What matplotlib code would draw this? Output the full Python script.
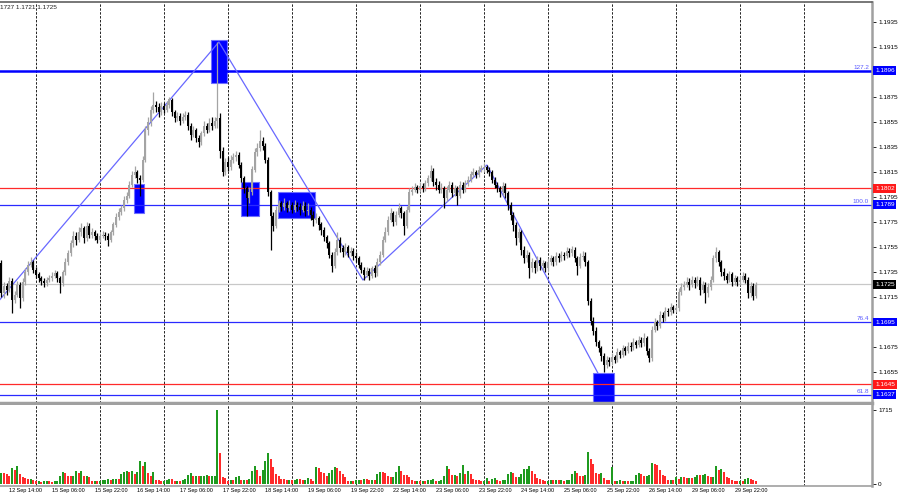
import numpy as np
import matplotlib.pyplot as plt
from matplotlib.patches import Rectangle
from matplotlib.transforms import blended_transform_factory

plt.rcParams['font.family'] = ['Liberation Sans', 'DejaVu Sans']

base = 1.1600  # prices below are pips above this level

# EURUSD H1 bars, index -3 .. 280 (bar 0 = 12 Sep 14:00)
opens = [142, 118, 124, 121, 128, 113, 117, 125, 114, 127, 135, 141,
         143, 137, 133, 130, 128, 126, 129, 130, 132, 134, 130, 126,
         135, 143, 150, 158, 164, 161, 167, 170, 162, 172, 165, 167,
         164, 161, 164, 165, 164, 161, 167, 173, 179, 183, 186, 193,
         196, 205, 213, 215, 210, 209, 225, 249, 255, 265, 269, 267,
         263, 268, 265, 269, 273, 263, 258, 260, 256, 259, 261, 252,
         245, 249, 242, 239, 246, 252, 249, 254, 252, 256, 258, 232,
         215, 223, 219, 225, 227, 229, 221, 210, 202, 194, 199, 217,
         231, 234, 240, 236, 225, 199, 180, 172, 185, 190, 187, 190,
         186, 189, 185, 189, 187, 185, 188, 184, 185, 181, 177, 178,
         173, 169, 163, 158, 149, 140, 151, 161, 154, 151, 155, 150,
         152, 148, 146, 141, 137, 133, 136, 132, 138, 134, 143, 149,
         161, 167, 177, 182, 175, 181, 186, 182, 172, 185, 199, 201,
         203, 201, 204, 202, 206, 210, 216, 207, 205, 201, 202, 194,
         201, 205, 198, 202, 196, 205, 201, 206, 209, 213, 215, 213,
         217, 218, 219, 217, 215, 209, 205, 202, 199, 204, 198, 189,
         181, 173, 162, 167, 153, 146, 149, 138, 143, 138, 145, 140,
         142, 138, 143, 146, 143, 148, 146, 149, 148, 152, 150, 153,
         146, 140, 147, 148, 143, 112, 96, 88, 79, 74, 68, 61,
         65, 63, 67, 65, 71, 69, 74, 72, 76, 75, 79, 77,
         81, 78, 82, 72, 66, 89, 95, 92, 101, 98, 104, 103,
         107, 105, 106, 119, 123, 125, 127, 125, 129, 126, 129, 121,
         125, 118, 123, 129, 146, 151, 143, 135, 132, 129, 133, 127,
         130, 127, 129, 132, 129, 118, 124, 116]
closes = [118, 124, 121, 128, 113, 117, 125, 114, 127, 135, 141, 143,
          137, 133, 130, 128, 126, 129, 130, 132, 134, 130, 126, 135,
          143, 150, 158, 164, 161, 167, 170, 162, 172, 165, 167, 164,
          161, 164, 165, 164, 161, 167, 173, 179, 183, 186, 193, 196,
          205, 213, 215, 210, 209, 225, 249, 255, 265, 269, 267, 263,
          268, 265, 269, 273, 263, 258, 260, 256, 259, 261, 252, 245,
          249, 242, 239, 246, 252, 249, 254, 252, 256, 258, 232, 215,
          223, 219, 225, 227, 229, 221, 210, 202, 194, 199, 217, 231,
          234, 240, 236, 225, 199, 180, 172, 185, 190, 187, 190, 186,
          189, 185, 189, 187, 185, 188, 184, 185, 181, 177, 178, 173,
          169, 163, 158, 149, 140, 151, 161, 154, 151, 155, 150, 152,
          148, 146, 141, 137, 133, 136, 132, 138, 134, 143, 149, 161,
          167, 177, 182, 175, 181, 186, 182, 172, 185, 199, 201, 203,
          201, 204, 202, 206, 210, 216, 207, 205, 201, 202, 194, 201,
          205, 198, 202, 196, 205, 201, 206, 209, 213, 215, 213, 217,
          218, 219, 217, 215, 209, 205, 202, 199, 204, 198, 189, 181,
          173, 162, 167, 153, 146, 149, 138, 143, 138, 145, 140, 142,
          138, 143, 146, 143, 148, 146, 149, 148, 152, 150, 153, 146,
          140, 147, 148, 143, 112, 96, 88, 79, 74, 68, 61, 65,
          63, 67, 65, 71, 69, 74, 72, 76, 75, 79, 77, 81,
          78, 82, 72, 66, 89, 95, 92, 101, 98, 104, 103, 107,
          105, 106, 119, 123, 125, 127, 125, 129, 126, 129, 121, 125,
          118, 123, 129, 146, 151, 143, 135, 132, 129, 133, 127, 130,
          127, 129, 132, 129, 118, 124, 116, 125]
highs = [145, 127, 126, 131, 130, 120, 128, 127, 130, 138, 144, 147,
         145, 139, 135, 132, 130, 131, 133, 135, 137, 136, 132, 137,
         146, 153, 161, 168, 167, 171, 174, 172, 175, 174, 170, 169,
         166, 166, 168, 167, 166, 169, 175, 182, 186, 189, 196, 199,
         208, 216, 220, 217, 213, 228, 252, 259, 268, 279, 272, 270,
         271, 270, 272, 275, 274, 265, 263, 262, 262, 264, 263, 254,
         252, 250, 245, 248, 256, 254, 258, 259, 259, 319, 262, 235,
         226, 227, 229, 230, 232, 231, 223, 212, 204, 203, 220, 234,
         238, 249, 243, 238, 227, 201, 183, 188, 193, 192, 194, 192,
         193, 191, 193, 191, 190, 192, 191, 190, 187, 184, 182, 180,
         175, 171, 165, 160, 151, 154, 167, 163, 157, 158, 157, 155,
         154, 151, 148, 143, 139, 139, 138, 140, 141, 146, 152, 164,
         171, 180, 186, 184, 184, 190, 188, 184, 188, 202, 204, 206,
         205, 207, 206, 209, 213, 221, 218, 210, 208, 206, 204, 204,
         208, 207, 205, 204, 208, 207, 209, 212, 216, 218, 217, 220,
         221, 222, 221, 219, 217, 211, 207, 204, 207, 206, 200, 191,
         183, 175, 170, 169, 156, 153, 151, 146, 145, 148, 147, 145,
         144, 146, 149, 148, 151, 150, 152, 151, 155, 154, 156, 155,
         148, 150, 152, 151, 145, 114, 99, 91, 81, 76, 70, 68,
         67, 70, 69, 74, 73, 77, 76, 79, 79, 82, 81, 84,
         83, 86, 84, 74, 92, 98, 97, 104, 103, 107, 106, 110,
         109, 109, 122, 126, 128, 131, 130, 132, 131, 132, 131, 128,
         127, 126, 132, 149, 155, 153, 145, 138, 134, 136, 135, 133,
         132, 132, 135, 134, 131, 127, 126, 127]
lows = [115, 114, 117, 119, 102, 110, 115, 106, 112, 125, 133, 139,
        134, 130, 127, 125, 123, 124, 127, 128, 130, 127, 118, 124,
        133, 141, 148, 155, 157, 159, 164, 158, 160, 162, 162, 161,
        158, 159, 162, 161, 156, 159, 165, 171, 177, 181, 184, 190,
        194, 203, 210, 206, 196, 207, 223, 245, 252, 262, 263, 259,
        261, 262, 263, 266, 260, 255, 256, 253, 254, 257, 249, 241,
        243, 239, 235, 237, 244, 246, 247, 249, 250, 250, 226, 212,
        213, 216, 217, 222, 224, 218, 207, 198, 180, 190, 197, 215,
        228, 232, 233, 222, 196, 153, 168, 170, 183, 184, 185, 183,
        184, 182, 183, 184, 181, 183, 180, 181, 177, 172, 174, 169,
        165, 160, 154, 146, 135, 138, 149, 151, 147, 149, 147, 148,
        145, 143, 138, 134, 129, 131, 129, 130, 131, 132, 141, 147,
        159, 165, 175, 172, 173, 179, 178, 165, 170, 183, 197, 199,
        198, 199, 199, 200, 204, 208, 204, 201, 198, 198, 186, 192,
        199, 195, 196, 189, 194, 198, 199, 204, 207, 211, 210, 211,
        215, 215, 214, 212, 206, 202, 199, 195, 197, 194, 185, 177,
        168, 157, 159, 149, 142, 143, 130, 135, 134, 136, 137, 137,
        135, 136, 141, 140, 141, 143, 144, 145, 146, 147, 148, 143,
        133, 138, 145, 140, 109, 93, 85, 76, 71, 64, 55, 58,
        60, 61, 62, 63, 66, 67, 69, 70, 72, 73, 74, 75,
        75, 76, 69, 63, 64, 87, 89, 90, 95, 96, 100, 101,
        102, 103, 104, 117, 121, 123, 121, 123, 122, 124, 117, 118,
        110, 115, 121, 127, 143, 140, 132, 129, 126, 127, 124, 125,
        124, 125, 127, 126, 114, 115, 113, 114]
volumes = [249, 245, 226, 181, 362, 316, 407, 226, 158, 150, 113, 118,
           90, 68, 72, 50, 66, 70, 64, 48, 70, 75, 181, 271,
           249, 185, 178, 190, 294, 249, 300, 181, 185, 158, 68, 70,
           66, 72, 90, 95, 113, 90, 110, 118, 105, 226, 271, 294,
           271, 300, 226, 271, 542, 407, 520, 249, 181, 271, 90, 85,
           68, 72, 90, 113, 108, 68, 72, 70, 90, 113, 203, 249,
           181, 185, 178, 183, 190, 203, 181, 185, 188, 1715, 723, 158,
           136, 68, 90, 86, 158, 181, 90, 92, 88, 113, 294, 407,
           316, 181, 316, 542, 723, 588, 384, 226, 181, 113, 110, 90,
           95, 88, 92, 113, 110, 90, 94, 136, 113, 68, 384, 362,
           271, 249, 181, 249, 316, 384, 380, 294, 226, 158, 68, 70,
           66, 90, 92, 88, 113, 110, 90, 94, 88, 226, 271, 268,
           249, 181, 158, 162, 271, 407, 294, 203, 198, 158, 90, 68,
           72, 66, 70, 68, 90, 95, 113, 68, 72, 90, 181, 429,
           339, 203, 208, 181, 249, 452, 226, 294, 226, 113, 90, 86,
           68, 72, 136, 68, 113, 136, 90, 68, 90, 92, 226, 271,
           249, 158, 162, 226, 339, 345, 407, 294, 226, 136, 113, 90,
           68, 72, 90, 88, 92, 90, 94, 68, 90, 92, 226, 294,
           249, 181, 178, 203, 746, 588, 475, 249, 226, 249, 136, 90,
           88, 384, 68, 72, 90, 68, 70, 66, 70, 72, 203, 249,
           226, 181, 185, 203, 497, 475, 452, 316, 203, 181, 90, 92,
           88, 158, 113, 158, 155, 136, 140, 138, 158, 203, 200, 206,
           226, 181, 158, 162, 429, 316, 339, 271, 158, 136, 90, 68,
           66, 70, 68, 113, 136, 113, 90, 68]

date_labels = ["12 Sep 14:00", "15 Sep 06:00", "15 Sep 22:00",
               "16 Sep 14:00", "17 Sep 06:00", "17 Sep 22:00", "18 Sep 14:00",
               "19 Sep 06:00", "19 Sep 22:00", "22 Sep 14:00", "23 Sep 06:00",
               "23 Sep 22:00", "24 Sep 14:00", "25 Sep 06:00", "25 Sep 22:00",
               "26 Sep 14:00", "29 Sep 06:00", "29 Sep 22:00"]
day_lines = [10, 34, 58, 82, 106, 130, 154, 178, 202, 226, 250, 274, 298]
# 1.1895, 1.1695 and 1.1635 sit under the price tags, so they are left out
price_ticks = [1.1655, 1.1675, 1.1715, 1.1735, 1.1755, 1.1775,
               1.1795, 1.1815, 1.1835, 1.1855, 1.1875, 1.1915, 1.1935]

fibo_levels = [1.1896, 1.1789, 1.1695, 1.1637]
fibo_names = ["127.2", "100.0", "76.4", "61.8"]
red_levels = [1.1802, 1.1645]
last_price = 1.1725

# zigzag (bar, price) and rectangles (bar0, bar1, low, high)
zz_bars = [-3.5, 78.6, 132.6, 179.1, 220.7]
zz_prices = [1.1713, 1.1919, 1.17286, 1.18206, 1.16542]
boxes = [(46.8, 50.5, 1.17822, 1.18054), (75.7, 81.6, 1.18862, 1.19206),
         (86.9, 93.6, 1.1780, 1.1807), (100.8, 114.6, 1.17782, 1.1799),
         (218.9, 226.7, 1.1620, 1.16542)]

bars = np.arange(-3, 281)
o = base + np.array(opens) / 10000
c = base + np.array(closes) / 10000
h = base + np.array(highs) / 10000
l = base + np.array(lows) / 10000
v = np.array(volumes)

fig = plt.figure(figsize=(9, 5), dpi=100)
ax = fig.add_axes([0, 97 / 500, 872 / 900, 401 / 500])
axv = fig.add_axes([0, 14 / 500, 872 / 900, 81 / 500])
xlim = (-3.49, 323.5)

# candles
up = c >= o
cols = np.where(up, '#a4a4a4', '#000000')
ax.vlines(bars, l, h, colors=cols, lw=0.9, zorder=3)
ax.bar(bars, np.maximum(np.abs(c - o), 0.00006), bottom=np.minimum(o, c),
       width=0.85, color=cols, lw=0, zorder=3)

for b0, b1, lo, hi in boxes:
    ax.add_patch(Rectangle((b0, lo), b1 - b0, hi - lo, facecolor='#0000ff',
                           edgecolor='#7070ff', lw=0.8, zorder=2))

ax.plot(zz_bars, zz_prices, color='#6868ff', lw=0.9, zorder=2.6)

for d in day_lines:
    ax.axvline(d, color='#222222', lw=0.7, ls=(0, (2.5, 1.5)), zorder=1)
    axv.axvline(d, color='#222222', lw=0.7, ls=(0, (2.5, 1.5)), zorder=1)

ax.axhline(last_price, color='#c8c8c8', lw=0.9, zorder=1.5)
for i, lev in enumerate(fibo_levels):
    ax.axhline(lev, color='#0000ff' if i == 0 else '#2a2aff',
               lw=1.8 if i == 0 else 0.9, zorder=2.5)
for lev in red_levels:
    ax.axhline(lev, color='#ff2a2a', lw=0.9, zorder=2.5)

ax.set_xlim(*xlim)
ax.set_ylim(1.16302, 1.1951)
ax.set_xticks([])
ax.yaxis.tick_right()
ax.set_yticks(price_ticks)
ax.set_yticklabels(["%.4f" % p for p in price_ticks])
ax.tick_params(axis='y', length=3, width=0.6, pad=1.5, labelsize=4.6)

trans = blended_transform_factory(ax.transAxes, ax.transData)
for lev, name in zip(fibo_levels, fibo_names):
    ax.annotate(name, xy=(869 / 872, lev), xycoords=trans, xytext=(0, 0.6),
                textcoords='offset points', ha='right', va='bottom',
                fontsize=4.6, color='#5a5aff')

# right-hand price tags
tags = [(1.1896, '#0000ff'), (1.1802, '#ff1a1a'), (1.1789, '#0000ff'),
        (1.1725, '#000000'), (1.1695, '#0000ff'), (1.1645, '#ff1a1a'),
        (1.1637, '#0000ff')]
for p, col in tags:
    ax.text(1.0035, p, "%.4f" % p, transform=trans, ha='left', va='center',
            fontsize=4.6, color='white', zorder=10, clip_on=False,
            bbox=dict(boxstyle='square,pad=0.28', fc=col, ec=col, lw=0))

ax.spines['left'].set_visible(False)
ax.spines['top'].set_color('#606060')
ax.spines['top'].set_linewidth(1.2)
ax.spines['right'].set_color('#a0a0a0')
ax.spines['right'].set_linewidth(1.8)
ax.spines['bottom'].set_color('#a0a0a0')
ax.spines['bottom'].set_linewidth(2.5)

# volumes
vcols = ['#1f9a1f' if i == 0 or v[i] > v[i - 1] else '#ff2a2a' for i in range(len(v))]
axv.bar(bars, v, width=0.8, color=vcols, lw=0, zorder=3)
axv.set_xlim(*xlim)
axv.set_ylim(-46, 1831)
axv.set_xticks([])
axv.yaxis.tick_right()
axv.set_yticks([0, 1715])
axv.set_yticklabels(['0', '1715'])
axv.tick_params(axis='y', length=3, width=0.6, pad=1.5, labelsize=4.6)
axv.spines['left'].set_visible(False)
axv.spines['top'].set_visible(False)
axv.spines['right'].set_color('#a0a0a0')
axv.spines['right'].set_linewidth(1.8)
axv.spines['bottom'].set_color('#a0a0a0')
axv.spines['bottom'].set_linewidth(1.2)

vtrans = blended_transform_factory(axv.transData, axv.transAxes)
for k, lab in enumerate(date_labels):
    axv.text(16 * k, -0.03, lab, transform=vtrans, ha='left', va='top',
             fontsize=4.0, clip_on=False)

fig.text(0.0, 1 - 7.5 / 500, "1727 1.1721 1.1725", fontsize=4.6, va='center',
         ha='left', color='#202020')

plt.savefig("out.png", dpi=100)
